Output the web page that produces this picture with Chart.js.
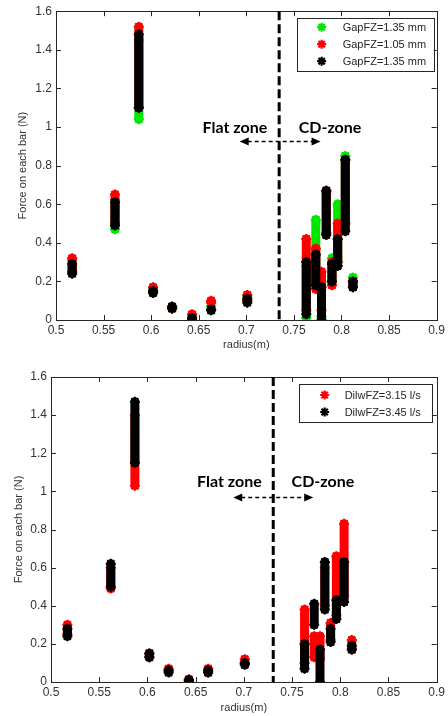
<!DOCTYPE html>
<html><head><meta charset="utf-8">
<script src="https://cdn.jsdelivr.net/npm/chart.js@4.4.0/dist/chart.umd.min.js"></script>
<style>
html,body{margin:0;padding:0;background:#fff;}
.wrap{position:absolute;left:0;width:448px;height:358px;}
</style></head><body>
<div class="wrap" style="top:0"><canvas id="c1" width="448" height="358"></canvas></div>
<div class="wrap" style="top:358px"><canvas id="c2" width="448" height="358"></canvas></div>
<script>
// ---------- DATA ----------
const radii = [0.517,0.562,0.587,0.602,0.622,0.643,0.663,0.701,0.763,0.773,0.779,0.784,0.790,0.796,0.804,0.812];

// Top chart (GapFZ)
const gapA135Low  = [0.25,0.47,1.04,0.14,0.06,0.01,0.05,0.10,0.01,0.20,0.02,0.45,0.20,0.30,0.50,0.18];
const gapA135High = [0.31,0.62,1.45,0.16,0.065,0.02,0.07,0.12,0.28,0.52,0.20,0.66,0.32,0.60,0.85,0.22];
const gap105Low   = [0.25,0.50,1.10,0.15,0.06,0.01,0.09,0.10,0.05,0.16,0.05,0.45,0.18,0.30,0.50,0.17];
const gap105High  = [0.32,0.65,1.52,0.17,0.065,0.03,0.10,0.13,0.42,0.37,0.25,0.67,0.30,0.50,0.83,0.20];
const gapB135Low  = [0.24,0.49,1.10,0.14,0.06,0.00,0.05,0.09,0.03,0.18,0.00,0.44,0.20,0.28,0.46,0.17];
const gapB135High = [0.29,0.61,1.48,0.15,0.07,0.01,0.055,0.11,0.30,0.34,0.17,0.67,0.29,0.42,0.83,0.20];

// Bottom chart (DilwFZ)
const dil315Low  = [0.25,0.49,1.03,0.13,0.06,0.01,0.05,0.10,0.10,0.13,0.12,0.40,0.22,0.35,0.45,0.17];
const dil315High = [0.30,0.60,1.40,0.15,0.07,0.015,0.07,0.12,0.38,0.24,0.24,0.60,0.31,0.66,0.83,0.22];
const dil345Low  = [0.24,0.50,1.15,0.13,0.05,0.005,0.05,0.09,0.07,0.30,0.00,0.38,0.21,0.33,0.42,0.17];
const dil345High = [0.28,0.62,1.47,0.15,0.06,0.01,0.06,0.10,0.20,0.41,0.17,0.63,0.28,0.43,0.63,0.19];

const topLabels = ['GapFZ=1.35 mm','GapFZ=1.05 mm','GapFZ=1.35 mm'];
const bottomLabels = ['DilwFZ=3.15 l/s','DilwFZ=3.45 l/s'];

const xTickValues = [0.5,0.55,0.6,0.65,0.7,0.75,0.8,0.85,0.9];
const xTickLabels = ['0.5','0.55','0.6','0.65','0.7','0.75','0.8','0.85','0.9'];
const yTickValues = [0,0.2,0.4,0.6,0.8,1,1.2,1.4,1.6];
const yTickLabels = ['0','0.2','0.4','0.6','0.8','1','1.2','1.4','1.6'];

const dividerTop = 0.7345, dividerBottom = 0.7305;
// annotation anchors (data units)
const annotTop = {flat:[0.688,0.995], cd:[0.788,0.995], arrow:[0.693,0.778,0.925]};
const annotBottom = {flat:[0.685,1.05], cd:[0.782,1.05], arrow:[0.689,0.772,0.972]};

// ---------- BUILD ----------
const GREEN='#00e600', RED='#ff0000', BLACK='#000000';
function segments(lo, hi){
  const pts=[];
  radii.forEach((r,i)=>{ pts.push({x:r,y:lo[i]},{x:r,y:hi[i]},{x:r,y:null}); });
  return pts;
}
function ds(label, lo, hi, color, order){
  return {label, data:segments(lo,hi), showLine:true, spanGaps:false,
    borderColor:color, borderWidth:9, borderCapStyle:'round',
    pointStyle:'star', pointRadius:5, pointBorderWidth:2,
    pointBorderColor:color, pointBackgroundColor:color, order};
}
function starAt(ctx,x,y,r,color){
  ctx.save(); ctx.strokeStyle=color; ctx.lineWidth=2.2;
  ctx.beginPath();
  for(let k=0;k<4;k++){ const a=k*Math.PI/4; ctx.moveTo(x-r*Math.cos(a),y-r*Math.sin(a)); ctx.lineTo(x+r*Math.cos(a),y+r*Math.sin(a)); }
  ctx.stroke(); ctx.restore();
}
function arrowHead(ctx,x,y,dir){
  ctx.beginPath(); ctx.moveTo(x,y); ctx.lineTo(x-dir*9,y-4); ctx.lineTo(x-dir*9,y+4); ctx.closePath(); ctx.fill();
}
function framePlugin(cfg){
  return {id:'frame', afterDraw(chart){
    const ctx=chart.ctx, a=chart.chartArea, xs=chart.scales.x, ys=chart.scales.y;
    ctx.save();
    ctx.strokeStyle='#262626'; ctx.lineWidth=1;
    ctx.strokeRect(Math.round(a.left)+0.5,Math.round(a.top)+0.5,Math.round(a.right-a.left),Math.round(a.bottom-a.top));
    ctx.beginPath();
    xTickValues.forEach(v=>{const px=Math.round(xs.getPixelForValue(v))+0.5; ctx.moveTo(px,a.bottom); ctx.lineTo(px,a.bottom-5); ctx.moveTo(px,a.top); ctx.lineTo(px,a.top+5);});
    yTickValues.forEach(v=>{const py=Math.round(ys.getPixelForValue(v))+0.5; ctx.moveTo(a.left,py); ctx.lineTo(a.left+5,py); ctx.moveTo(a.right,py); ctx.lineTo(a.right-5,py);});
    ctx.stroke();
    const dx=xs.getPixelForValue(cfg.divider);
    ctx.strokeStyle='#000'; ctx.lineWidth=3; ctx.setLineDash([9,4]);
    ctx.beginPath(); ctx.moveTo(dx,ys.getPixelForValue(1.6)); ctx.lineTo(dx,ys.getPixelForValue(0)); ctx.stroke();
    ctx.setLineDash([]);
    ctx.fillStyle='#000'; ctx.font='bold 16px Lato'; ctx.textAlign='center'; ctx.textBaseline='middle';
    ctx.fillText('Flat zone', xs.getPixelForValue(cfg.annot.flat[0]), ys.getPixelForValue(cfg.annot.flat[1]));
    ctx.fillText('CD-zone', xs.getPixelForValue(cfg.annot.cd[0]), ys.getPixelForValue(cfg.annot.cd[1]));
    const x1=xs.getPixelForValue(cfg.annot.arrow[0]), x2=xs.getPixelForValue(cfg.annot.arrow[1]), ay=Math.round(ys.getPixelForValue(cfg.annot.arrow[2]))+0.5;
    ctx.lineWidth=1.3; ctx.setLineDash([4,3]);
    ctx.beginPath(); ctx.moveTo(x1+8,ay); ctx.lineTo(x2-8,ay); ctx.stroke();
    ctx.setLineDash([]);
    arrowHead(ctx,x1,ay,-1); arrowHead(ctx,x2,ay,1);
    const L=cfg.legend;
    const bx=a.right-L.rightOff-L.w, by=a.top+L.topOff;
    ctx.fillStyle='#fff'; ctx.fillRect(bx,by,L.w,L.h);
    ctx.strokeStyle='#262626'; ctx.lineWidth=1; ctx.strokeRect(Math.round(bx)+0.5,Math.round(by)+0.5,L.w,L.h);
    ctx.font='11px "Liberation Sans"'; ctx.textAlign='left'; ctx.fillStyle='#262626';
    L.items.forEach((it,i)=>{
      const y=by+L.first+i*L.step;
      starAt(ctx,bx+L.markX,y,4.5,it.color);
      ctx.fillStyle='#262626'; ctx.fillText(it.label,bx+L.textX,y+0.5);
    });
    ctx.restore();
  }};
}
function makeChart(id, datasets, cfg){
  return new Chart(document.getElementById(id), {
    type:'scatter',
    data:{datasets},
    options:{
      responsive:false, animation:false, events:[],
      layout:{padding:cfg.padding},
      plugins:{legend:{display:false}, tooltip:{enabled:false}},
      scales:{
        x:{type:'linear', min:0.5, max:0.9,
          afterBuildTicks:s=>{s.ticks=xTickValues.map(v=>({value:v}));},
          afterFit:s=>{s.height=cfg.xHeight;},
          grid:{display:false, drawTicks:false}, border:{display:false},
          ticks:{autoSkip:false, maxRotation:0, padding:cfg.xPad, color:'#333', font:{family:'Liberation Sans', size:12},
            callback:(v,i)=>xTickLabels[i]},
          title:{display:true, text:'radius(m)', color:'#333', font:{family:'Liberation Sans', size:11}, padding:cfg.xTitlePad}},
        y:{type:'linear', min:0, max:1.6,
          afterBuildTicks:s=>{s.ticks=yTickValues.map(v=>({value:v}));},
          afterFit:s=>{s.width=cfg.yWidth;},
          grid:{display:false, drawTicks:false}, border:{display:false},
          ticks:{autoSkip:false, padding:4, color:'#333', font:{family:'Liberation Sans', size:12},
            callback:(v,i)=>yTickLabels[i]},
          title:{display:true, text:'Force on each bar (N)', color:'#333', font:{family:'Liberation Sans', size:11}, padding:cfg.yTitlePad}}
      }
    },
    plugins:[framePlugin(cfg)]
  });
}

makeChart('c1', [
  ds(topLabels[0], gapA135Low, gapA135High, GREEN, 3),
  ds(topLabels[1], gap105Low, gap105High, RED, 2),
  ds(topLabels[2], gapB135Low, gapB135High, BLACK, 1)
], {padding:{top:7,right:11,left:0,bottom:0}, xHeight:38, yWidth:56, xPad:3, xTitlePad:{top:0,bottom:6}, yTitlePad:{top:16,bottom:0},
   divider:dividerTop, annot:annotTop,
   legend:{w:137,h:53,rightOff:3,topOff:7,first:9,step:17,markX:25,textX:46,
     items:[{label:topLabels[0],color:GREEN},{label:topLabels[1],color:RED},{label:topLabels[2],color:BLACK}]}});

makeChart('c2', [
  ds(bottomLabels[0], dil315Low, dil315High, RED, 2),
  ds(bottomLabels[1], dil345Low, dil345High, BLACK, 1)
], {padding:{top:19,right:8,left:0,bottom:0}, xHeight:34, yWidth:51, xPad:3, xTitlePad:{top:0,bottom:1}, yTitlePad:{top:12,bottom:0},
   divider:dividerBottom, annot:annotBottom,
   legend:{w:133,h:38,rightOff:5,topOff:7,first:11,step:17,markX:26,textX:46,
     items:[{label:bottomLabels[0],color:RED},{label:bottomLabels[1],color:BLACK}]}});
</script>
</body></html>
